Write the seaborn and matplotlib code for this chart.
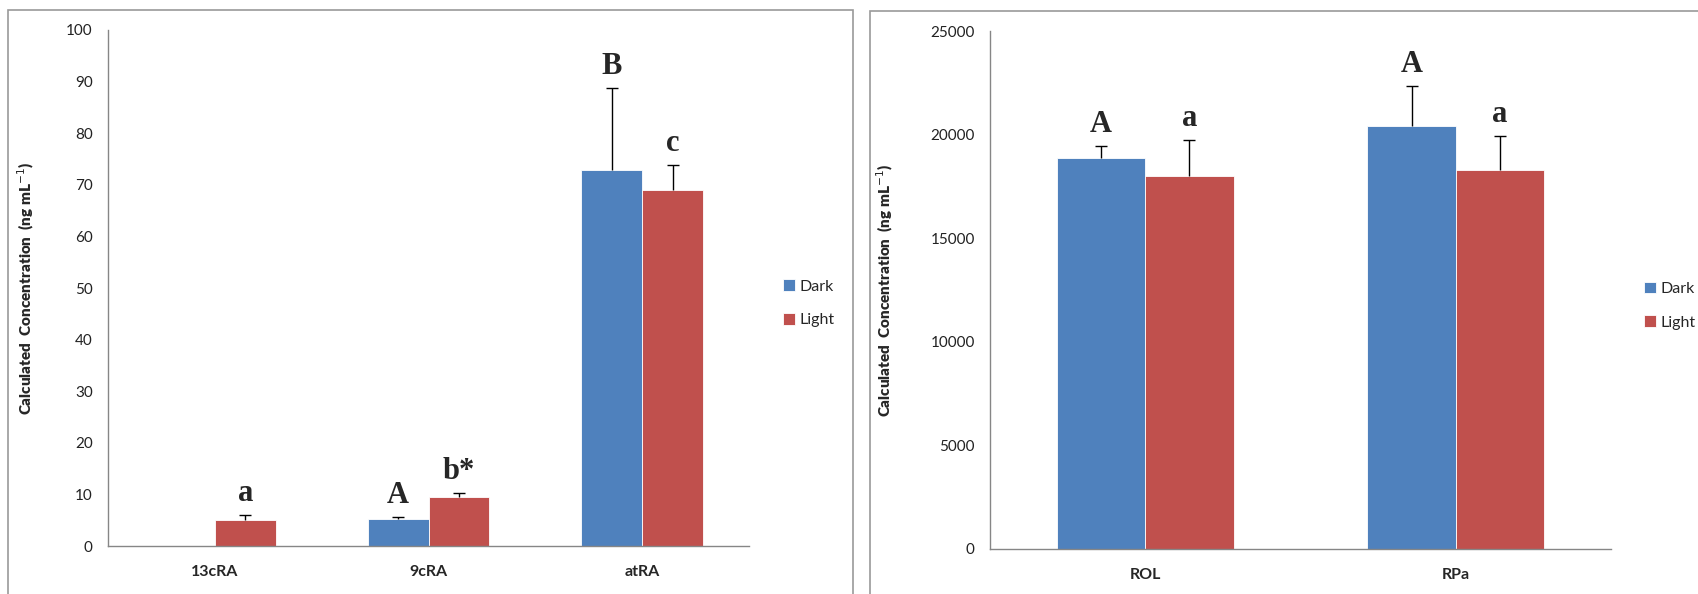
import pandas as pd
import matplotlib
matplotlib.use("Agg")
import matplotlib.pyplot as plt
from matplotlib.patches import Rectangle
from matplotlib.ticker import FixedLocator
import seaborn as sns

# data
ra_forms = ["13cRA", "9cRA", "atRA"]
ra_dark = [0.0, 5.2, 72.8]
ra_dark_err = [0.0, 0.5, 16.0]
ra_light = [5.0, 9.5, 69.0]
ra_light_err = [1.0, 0.7, 4.9]
ra_dark_lbl = ["", "A", "B"]
ra_light_lbl = ["a", "b*", "c"]

rol_forms = ["ROL", "RPa"]
rol_dark = [18850, 20400]
rol_dark_err = [600, 1950]
rol_light = [18000, 18300]
rol_light_err = [1750, 1650]
rol_dark_lbl = ["A", "A"]
rol_light_lbl = ["a", "a"]

groups = ["Dark", "Light"]
colors = {"Dark": "#4F81BD", "Light": "#C0504D"}

sns.set_style("white")
plt.rcParams["font.family"] = ["Lato", "DejaVu Sans"]

fig = plt.figure(figsize=(16.98, 5.94), dpi=100)

# panel frames
fig.add_artist(Rectangle((8 / 1698, -0.01), 845 / 1698, 1 - 10 / 594 + 0.01,
                         transform=fig.transFigure, fill=False, ec="#9a9a9a", lw=1.2))
fig.add_artist(Rectangle((870 / 1698, -0.01), 840 / 1698, 1 - 11 / 594 + 0.01,
                         transform=fig.transFigure, fill=False, ec="#9a9a9a", lw=1.2))


def panel(rect, cats, dark, dark_err, light, light_err, dlbl, llbl, ymax, ystep, lab_x):
    ax = fig.add_axes(rect)
    df = pd.DataFrame({
        "cat": cats * 2,
        "grp": ["Dark"] * len(cats) + ["Light"] * len(cats),
        "val": list(dark) + list(light),
    })
    sns.barplot(data=df, x="cat", y="val", hue="grp", hue_order=groups,
                palette=colors, width=0.57, errorbar=None, saturation=1,
                linewidth=0.6, edgecolor="white", ax=ax)
    errs = [dark_err, light_err]
    lbls = [dlbl, llbl]
    bar_sets = list(ax.containers)
    for gi, cont in enumerate(bar_sets):
        for ci, bar in enumerate(cont):
            h = bar.get_height()
            if h <= 0:
                continue
            xc = bar.get_x() + bar.get_width() / 2
            e = errs[gi][ci]
            eb = ax.errorbar(xc, h, yerr=[[0], [e]], fmt="none", ecolor="black",
                             elinewidth=1, capsize=4, capthick=1)
            eb[1][0].set_visible(False)  # no cap at the bar top
            if lbls[gi][ci]:
                ax.annotate(lbls[gi][ci], (xc, h + e), xytext=(0, 5),
                            textcoords="offset points", ha="center", va="bottom",
                            fontsize=22, fontweight="bold",
                            family=["Liberation Serif", "DejaVu Serif"])
    ax.set_ylim(0, ymax)
    ax.set_yticks(range(0, ymax + 1, ystep))
    ax.set_xlim(-0.5, len(cats) - 0.5)
    ax.xaxis.set_minor_locator(FixedLocator([i - 0.5 for i in range(len(cats) + 1)]))
    ax.tick_params(axis="x", which="major", length=0, pad=14, labelsize=11.5)
    ax.tick_params(axis="x", which="minor", length=5, color="#868686", direction="out")
    ax.tick_params(axis="y", length=5, color="#868686", direction="out",
                   labelsize=11, labelcolor="#222222", pad=6)
    for t in ax.get_xticklabels():
        t.set_fontweight("bold")
    ax.set_xlabel("")
    ax.set_ylabel("Calculated  Concentration  (ng mL$^{-1}$)", fontsize=11,
                  fontweight="heavy")
    ax.yaxis.set_label_coords(lab_x, 0.5)
    for s in ["top", "right"]:
        ax.spines[s].set_visible(False)
    for s in ["left", "bottom"]:
        ax.spines[s].set_color("#868686")
        ax.spines[s].set_linewidth(1)
    ax.legend(loc="center left", bbox_to_anchor=(1.03, 0.47), frameon=False,
              handlelength=0.75, handleheight=0.75, handletextpad=0.3,
              labelspacing=1.2, fontsize=11.5)
    return ax


panel([108 / 1698, 0.0808, 641 / 1698, 0.8687], ra_forms, ra_dark, ra_dark_err,
      ra_light, ra_light_err, ra_dark_lbl, ra_light_lbl, 100, 10, -0.112)
panel([990 / 1698, 0.0758, 621 / 1698, 0.872], rol_forms, rol_dark, rol_dark_err,
      rol_light, rol_light_err, rol_dark_lbl, rol_light_lbl, 25000, 5000, -0.153)

fig.savefig("out.png", dpi=100)
